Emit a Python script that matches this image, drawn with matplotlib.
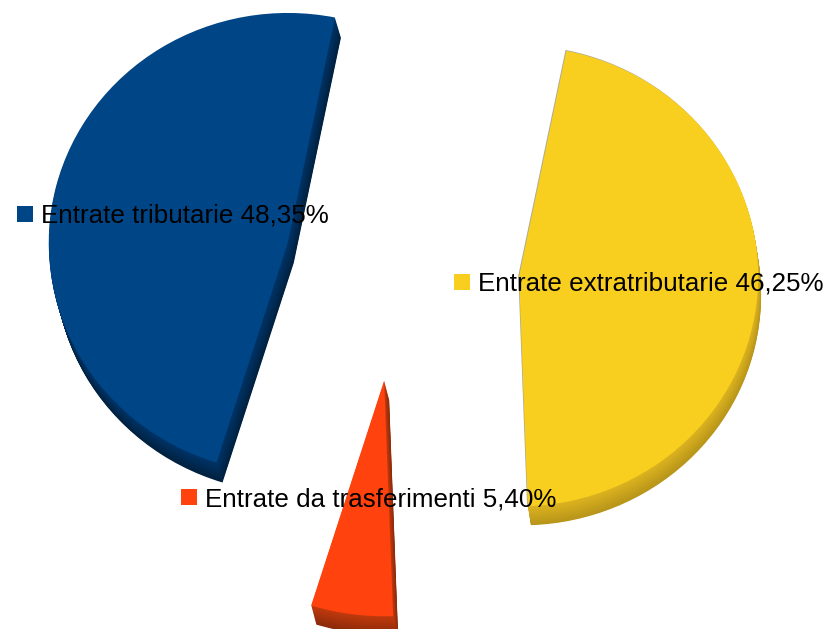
import matplotlib
matplotlib.use("Agg")
import matplotlib.pyplot as plt
from matplotlib.colors import to_rgb
from matplotlib.patches import Rectangle

categories = ["Entrate tributarie", "Entrate da trasferimenti", "Entrate extratributarie"]
values = [48.35, 5.40, 46.25]
value_labels = ["48,35%", "5,40%", "46,25%"]
colors = ["#004586", "#FF420E", "#F9CF1F"]
side_top = ["#003468", "#C23A0C", "#DDB41F"]
side_bottom = ["#00213F", "#8A2A0A", "#B8951A"]
explode = [0.5, 0.5, 0.5]
nudge_px = [(2.5, -0.5), (-1, -5.5), (-1, -5)]
depth_px = [(6, 20), (5, 19), (3, 19)]
radius_scale = [1.0, 1.025, 1.0]
legend_pos = [(17, 204), (181, 489), (454, 273)]
key_shift = [2, 0, 1]

W, H = 830, 629
CX, CY, RX, RY = 401, 272, 239, 230
LAYERS = 24

plt.rcParams["font.family"] = ["Liberation Sans", "DejaVu Sans"]
fig = plt.figure(figsize=(W / 100, H / 100), dpi=100, facecolor="white")
ax = fig.add_axes([0, 0, 1, 1])


def mix(a, b, t):
    ra, rb = to_rgb(a), to_rgb(b)
    return tuple(x + (y - x) * t for x, y in zip(ra, rb))


def draw(slice_colors, t=0.0, extra=(0.0, 0.0)):
    wedges, _ = ax.pie(values, colors=slice_colors, explode=explode, startangle=78.6,
                       counterclock=True, radius=1, frame=True,
                       wedgeprops=dict(linewidth=0))
    for w, (nx, ny), (dx, dy), rs in zip(wedges, nudge_px, depth_px, radius_scale):
        cx, cy = w.center
        w.set_center((cx + (nx + dx * t + extra[0]) / RX,
                      cy - (ny + dy * t + extra[1]) / RY))
        w.set_radius(w.r * rs)


# thin gray rim on the yellow slice
draw(["none", "none", "#A9A9A0"], extra=(-0.8, -0.9))

# extruded side, drawn from the bottom up
for i in range(LAYERS, 0, -1):
    t = i / LAYERS
    draw([mix(a, b, t) for a, b in zip(side_top, side_bottom)], t=t)

# top face
draw(colors)

ax.set_aspect("auto")
ax.set_xlim(-CX / RX, (W - CX) / RX)
ax.set_ylim((CY - H) / RY, CY / RY)
ax.axis("off")

# legend overlay in pixel space
over = fig.add_axes([0, 0, 1, 1], facecolor="none")
over.set_xlim(0, W)
over.set_ylim(H, 0)
over.axis("off")
for cat, lab, col, (x, y), ks in zip(categories, value_labels, colors, legend_pos, key_shift):
    over.add_patch(Rectangle((x, y + ks), 16, 16, facecolor=col, edgecolor="none"))
    over.text(x + 24, y + 8.5, f"{cat} {lab}", fontsize=18.7, color="black",
              ha="left", va="center_baseline")

fig.savefig("out.png", dpi=100, facecolor="white")
